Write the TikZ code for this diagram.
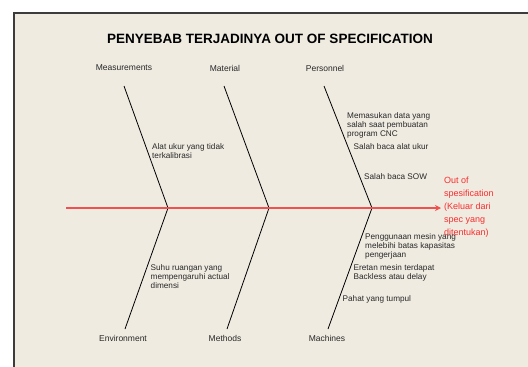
\documentclass[tikz,border=0pt]{standalone}
\usepackage{fontspec}
\setmainfont{Liberation Sans}
\usetikzlibrary{arrows.meta,positioning}

\definecolor{paper}{RGB}{239,235,225}
\definecolor{frameline}{RGB}{60,60,60}
\definecolor{spinered}{RGB}{240,80,80}
\definecolor{effectred}{RGB}{250,45,45}
\definecolor{causetext}{RGB}{40,40,40}

\begin{document}
\begin{tikzpicture}[
    x=1pt, y=-1pt,
    title/.style={font=\fontsize{13.5}{16}\selectfont\bfseries, inner sep=0pt},
    cat/.style={font=\fontsize{8.5}{10}\selectfont, text=causetext, inner sep=0pt},
    cause/.style={font=\fontsize{8.2}{9.3}\selectfont, text=causetext,
                  align=left, anchor=north west, inner sep=0pt},
    effect/.style={font=\fontsize{9}{13}\selectfont, text=effectred,
                   align=left, anchor=north west, inner sep=0pt},
    bone/.style={black, line width=0.8pt},
    spine/.style={spinered, line width=1.6pt, -{Stealth[length=6pt,width=6pt]}}
  ]

  \useasboundingbox (0,0) rectangle (528,367);
  \fill[white] (0,0) rectangle (528,367);
  \draw[frameline, fill=paper, line width=1.2pt] (14,13) rectangle (540,380);

  % ========= title =========
  \node[title] (title) at (270,39) {PENYEBAB TERJADINYA OUT OF SPECIFICATION};

  % ========= spine and effect =========
  \coordinate (tail)  at (66,208);
  \coordinate (tip)   at (441,208);
  \coordinate (jmeas) at (168,208);
  \coordinate (jmat)  at (269,208);
  \coordinate (jpers) at (372,208);

  \node[effect] (effect) at (444,177)
    {Out of\\spesification\\(Keluar dari\\spec yang\\ditentukan)};

  % ========= category labels =========
  \node[cat] (meas) at (124,68)  {Measurements};
  \node[cat] (mat)  at (225,68)  {Material};
  \node[cat] (pers) at (325,68)  {Personnel};
  \node[cat] (env)  at (123,338) {Environment};
  \node[cat] (meth) at (225,338) {Methods};
  \node[cat] (mach) at (327,338) {Machines};

  \coordinate (tmeas) at (124,86);
  \coordinate (tmat)  at (224,86);
  \coordinate (tpers) at (324,86);
  \coordinate (benv)  at (125,329);
  \coordinate (bmeth) at (227,329);
  \coordinate (bmach) at (328,329);

  % ========= bones =========
  \draw[bone] (tmeas) -- (jmeas) -- (benv);
  \draw[bone] (tmat)  -- (jmat)  -- (bmeth);
  \draw[bone] (tpers) -- (jpers) -- (bmach);

  \draw[spine] (tail) -- (tip);

  % ========= causes =========
  \node[cause] (alat) at (152,143) {Alat ukur yang tidak\\terkalibrasi};
  \node[cause] (suhu) at (150.5,264)
    {Suhu ruangan yang\\mempengaruhi actual\\dimensi};
  \node[cause] (data) at (347,112)
    {Memasukan data yang\\salah saat pembuatan\\program CNC};
  \node[cause] (baca) at (353.5,143) {Salah baca alat ukur};
  \node[cause] (sow)  at (364,173)   {Salah baca SOW};
  \node[cause] (kapasitas) at (365,233)
    {Penggunaan mesin yang\\melebihi batas kapasitas\\pengerjaan};
  \node[cause] (eretan) at (353.5,264)
    {Eretan mesin terdapat\\Backless atau delay};
  \node[cause] (pahat) at (342.5,295) {Pahat yang tumpul};

\end{tikzpicture}
\end{document}
